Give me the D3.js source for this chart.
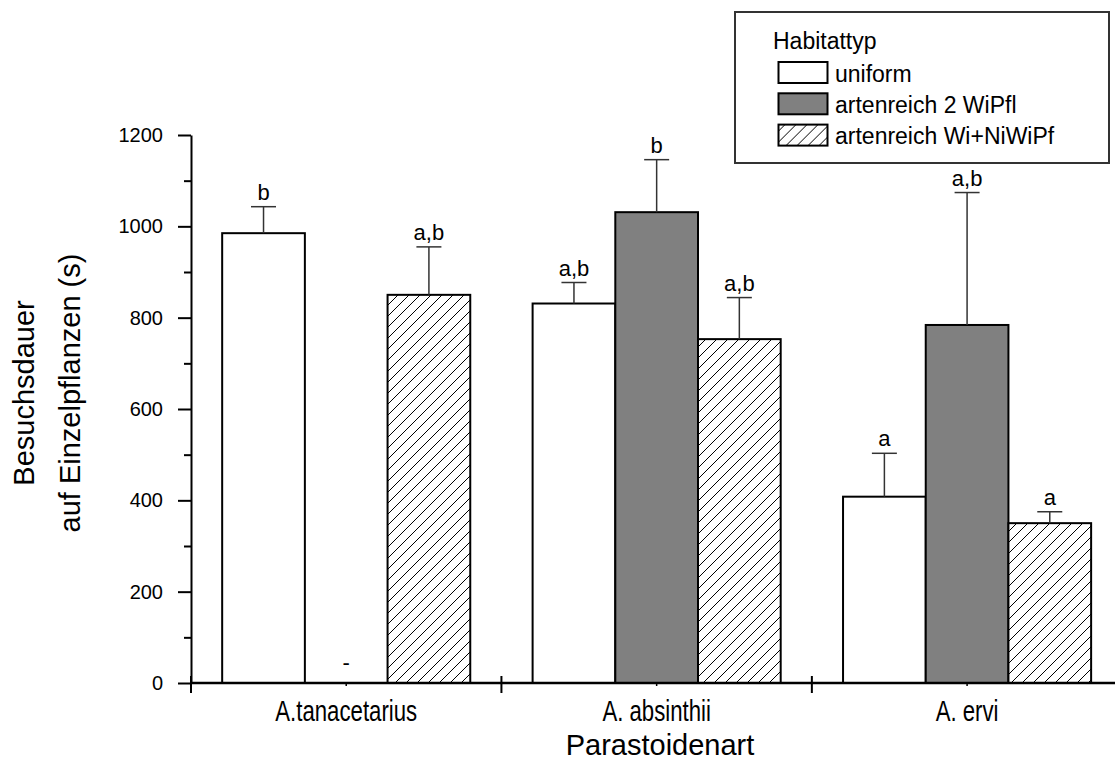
<!DOCTYPE html>
<html>
<head>
<meta charset="utf-8">
<script src="https://cdn.jsdelivr.net/npm/d3@7"></script>
<style>
  body { margin: 0; background: #fff; }
  text { font-family: "Liberation Sans", Arial, sans-serif; fill: #000; }
</style>
</head>
<body>
<div class="bar-chart-container"></div>
<script>
// Daten
const groups = ['A.tanacetarius', 'A. absinthii', 'A. ervi'];
const seriesNames = ['uniform', 'artenreich 2 WiPfl', 'artenreich Wi+NiWiPf'];

// Mittelwerte je Habitattyp
const uniformMean = [985, 831, 408];
const zweiMean = [null, 1031, 784];      // A.tanacetarius: keine Daten
const wiNiMean = [850, 753, 350];

// obere Enden der Fehlerbalken
const uniformUpper = [1043, 877, 503];
const zweiUpper = [null, 1146, 1074];
const wiNiUpper = [955, 844, 375];

// Buchstaben über den Balken
const uniformLetters = ['b', 'a,b', 'a'];
const zweiLetters = ['-', 'b', 'a,b'];
const wiNiLetters = ['a,b', 'a,b', 'a'];

const yMajorTicks = [0, 200, 400, 600, 800, 1000, 1200];
const yMinorTicks = [100, 300, 500, 700, 900, 1100];

// Tabelle für das Zeichnen
const means = [uniformMean, zweiMean, wiNiMean];
const uppers = [uniformUpper, zweiUpper, wiNiUpper];
const letters = [uniformLetters, zweiLetters, wiNiLetters];
const rows = [];
groups.forEach((g, gi) => {
  seriesNames.forEach((s, si) => {
    rows.push({group: g, series: s, value: means[si][gi], upper: uppers[si][gi], letter: letters[si][gi]});
  });
});

const fills = {'uniform': '#ffffff', 'artenreich 2 WiPfl': '#808080', 'artenreich Wi+NiWiPf': 'url(#hatch)'};

const svg_width = 1115, svg_height = 762;
const svg = d3.select('.bar-chart-container').append('svg')
  .attr('width', svg_width).attr('height', svg_height);

// Schraffur
const defs = svg.append('defs');
const pat = defs.append('pattern').attr('id', 'hatch')
  .attr('patternUnits', 'userSpaceOnUse').attr('width', 11).attr('height', 11);
pat.append('rect').attr('width', 11).attr('height', 11).attr('fill', '#fff');
pat.append('path').attr('d', 'M0,11 L11,0 M-2.75,2.75 L2.75,-2.75 M8.25,13.75 L13.75,8.25')
  .attr('stroke', '#000').attr('stroke-width', 1);

// Skalen
const xLeft = 191, xRight = 1122.3;
const yScale = d3.scaleLinear().domain([0, 1200]).range([683, 135]);
const xGroup = d3.scaleBand().domain(groups).range([xLeft, xRight]).padding(0);
const xSeries = d3.scaleBand().domain(seriesNames).range([0, xGroup.bandwidth()])
  .paddingInner(0).paddingOuter(0.377);
const xPos = d3.scaleLinear().domain([0, 3]).range([xLeft, xRight]);

// Balken
const barG = svg.append('g');
const drawn = rows.filter(d => d.value != null);
barG.selectAll('.bar').data(drawn).enter().append('rect')
  .attr('class', 'bar')
  .attr('x', d => xGroup(d.group) + xSeries(d.series))
  .attr('y', d => yScale(d.value))
  .attr('width', xSeries.bandwidth())
  .attr('height', d => yScale(0) - yScale(d.value))
  .attr('fill', d => fills[d.series])
  .attr('stroke', '#000').attr('stroke-width', 2);

// Fehlerbalken
const cx = d => xGroup(d.group) + xSeries(d.series) + xSeries.bandwidth() / 2;
const capHalf = 12.5;
const errG = svg.append('g').attr('stroke', '#333').attr('stroke-width', 1.5);
errG.selectAll('.err').data(drawn).enter().append('line')
  .attr('x1', cx).attr('x2', cx)
  .attr('y1', d => yScale(d.value)).attr('y2', d => yScale(d.upper));
errG.selectAll('.cap').data(drawn).enter().append('line')
  .attr('x1', d => cx(d) - capHalf).attr('x2', d => cx(d) + capHalf)
  .attr('y1', d => yScale(d.upper)).attr('y2', d => yScale(d.upper));

// Buchstaben
svg.append('g').selectAll('text').data(rows).enter().append('text')
  .attr('x', cx)
  .attr('y', d => d.value == null ? yScale(0) - 13 : yScale(d.upper) - 7)
  .attr('text-anchor', 'middle')
  .style('font-size', '22px')
  .text(d => d.letter);

// y-Achse
const yAxis = d3.axisLeft(yScale).tickValues(yMajorTicks).tickFormat(d3.format('d'))
  .tickSize(13).tickSizeOuter(0).tickPadding(15);
const yAxisDraw = svg.append('g').attr('transform', `translate(${xLeft},0)`).call(yAxis);
yAxisDraw.selectAll('text').style('font-size', '20px').style('font-family', '"Liberation Sans", Arial, sans-serif');
const yMinor = d3.axisLeft(yScale).tickValues(yMinorTicks).tickSize(7).tickSizeOuter(0).tickFormat('');
svg.append('g').attr('transform', `translate(${xLeft},0)`).call(yMinor).select('.domain').remove();
svg.selectAll('.tick line').attr('stroke-width', 2);
yAxisDraw.select('.domain').attr('stroke-width', 2);

// x-Achse
const xAxisG = svg.append('g').attr('transform', `translate(0,${yScale(0)})`);
xAxisG.append('line').attr('x1', xLeft - 1).attr('x2', xRight)
  .attr('stroke', '#000').attr('stroke-width', 2.5);
xAxisG.selectAll('.major').data([0, 1, 2, 3]).enter().append('line')
  .attr('x1', d => xPos(d)).attr('x2', d => xPos(d))
  .attr('y1', -7).attr('y2', 10)
  .attr('stroke', '#000').attr('stroke-width', 2);
xAxisG.selectAll('.minor').data([0.5, 1.5, 2.5]).enter().append('line')
  .attr('x1', d => xPos(d)).attr('x2', d => xPos(d))
  .attr('y1', 0).attr('y2', 3)
  .attr('stroke', '#000').attr('stroke-width', 1.5);

// Gruppenbeschriftungen (schmal)
svg.append('g').selectAll('text').data(groups).enter().append('text')
  .attr('transform', d => `translate(${xGroup(d) + xGroup.bandwidth() / 2},721) scale(0.74,1)`)
  .attr('text-anchor', 'middle')
  .style('font-size', '30px')
  .text(d => d);

// Achsentitel
svg.append('text').attr('x', 660).attr('y', 755).attr('text-anchor', 'middle')
  .style('font-size', '29px').text('Parastoidenart');
const yTitle = svg.append('text').attr('transform', 'rotate(-90)')
  .attr('text-anchor', 'middle').style('font-size', '29px');
yTitle.append('tspan').attr('x', -393).attr('y', 34).text('Besuchsdauer');
yTitle.append('tspan').attr('x', -393).attr('y', 80).text('auf Einzelpflanzen (s)');

// Legende
const legend = svg.append('g');
legend.append('rect').attr('x', 735).attr('y', 12).attr('width', 374).attr('height', 151)
  .attr('fill', '#fff').attr('stroke', '#333').attr('stroke-width', 2);
legend.append('text').attr('x', 773).attr('y', 49).style('font-size', '23px').text('Habitattyp');
const items = legend.selectAll('.item').data(seriesNames).enter().append('g')
  .attr('transform', (d, i) => `translate(0,${i * 31.3})`);
items.append('rect').attr('x', 778.5).attr('y', 62).attr('width', 49).attr('height', 21)
  .attr('fill', d => fills[d]).attr('stroke', '#000').attr('stroke-width', 2);
items.append('text').attr('x', 835).attr('y', 81.5).style('font-size', '23px').text(d => d);
</script>
</body>
</html>
